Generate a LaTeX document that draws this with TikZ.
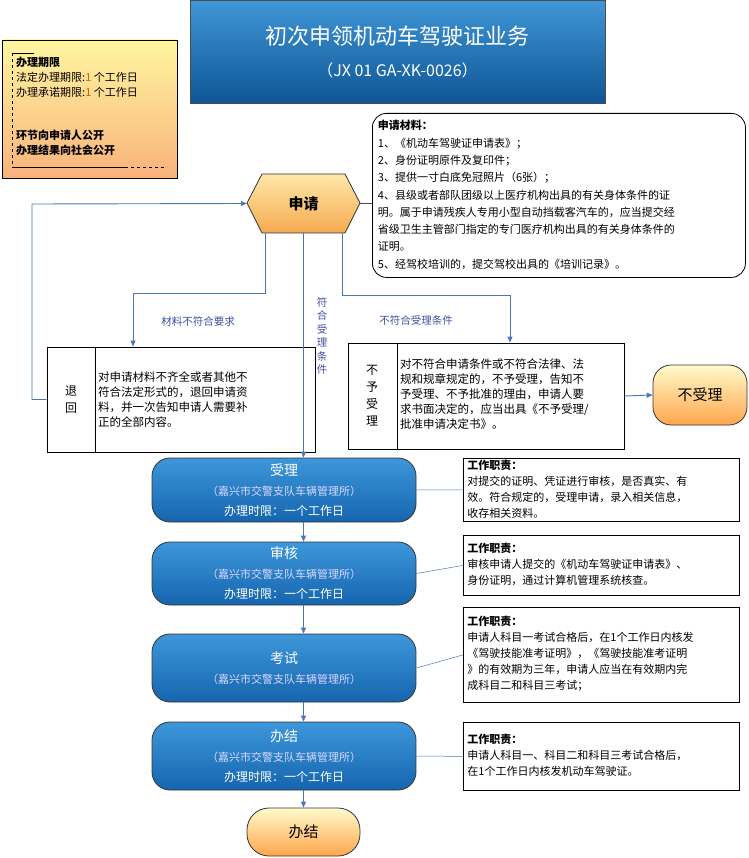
\documentclass[tikz,border=0pt]{standalone}
\usepackage{fontspec}
\setmainfont{Noto Sans CJK SC}
\usetikzlibrary{arrows.meta}
\definecolor{lbl}{HTML}{3F4FA0}
\definecolor{ln}{HTML}{4A76B8}
\definecolor{btop}{HTML}{3E97DA}
\definecolor{bbot}{HTML}{1565AE}
\tikzset{
  conn/.style={draw=ln,line width=0.9pt},
  arr/.style={conn,-{Triangle[length=6pt,width=5pt]}},
  bluebox/.style={draw=black!80,line width=0.8pt,rounded corners=18pt,top color=btop,bottom color=bbot,minimum width=264pt,align=center,text=white,font=\fontsize{12}{20}\selectfont},
  orangebox/.style={draw=black!80,line width=0.8pt,top color=orange!15!yellow!20,bottom color=orange!70,align=center},
  duty/.style={draw=black,line width=0.8pt,anchor=north west,inner sep=0pt,font=\fontsize{11}{16}\selectfont,align=left,text width=276pt},
  lab/.style={text=lbl,font=\fontsize{10.5}{14}\selectfont},
}
\begin{document}
\begin{tikzpicture}[x=1pt,y=-1pt]
\useasboundingbox (0,0) rectangle (748,858);
% title
\node[draw=black!70,top color={rgb,255:red,64;green,150;blue,214},bottom color={rgb,255:red,14;green,86;blue,150},minimum width=415pt,minimum height=103pt,align=center,text=white,font=\fontsize{22}{30}\selectfont] (title) at (397.5,51.5)
 {初次申领机动车驾驶证业务\\[2pt]{\fontsize{16}{22}\selectfont （JX 01 GA-XK-0026）}};
% deadline box
\node[draw=black,line width=0.8pt,top color={rgb,255:red,255;green,246;blue,160},bottom color={rgb,255:red,249;green,178;blue,124},minimum width=175pt,minimum height=138pt] (dl) at (89.5,109) {};
\draw[black,line width=0.7pt] (34,53) -- (12,53);
\draw[black,line width=0.7pt,dashed] (12,53) -- (12,167);
\draw[black,line width=0.7pt] (12,167) -- (125,167);
\draw[black,line width=0.7pt,dashed] (125,167) -- (166,167);
\node[anchor=north west,align=left,inner sep=0pt,font=\fontsize{11}{15}\selectfont] (dlt) at (16,57)
 {\textbf{办理期限}\\法定办理期限:\textcolor{orange!80!black}{1} 个工作日\\办理承诺期限:\textcolor{orange!80!black}{1} 个工作日\\[28pt]\textbf{环节向申请人公开}\\\textbf{办理结果向社会公开}};
% hexagon 申请
\path[draw=black!80,line width=0.8pt,top color={rgb,255:red,255;green,232;blue,170},bottom color={rgb,255:red,245;green,170;blue,80}] (247,203) -- (262,174) -- (345,174) -- (360,203) -- (345,233) -- (262,233) -- cycle;
\node[minimum width=113pt,minimum height=59pt,font=\fontsize{15}{18}\selectfont\bfseries] (sq) at (303.5,203.5) {申请};
% materials
\node[draw=black,line width=0.8pt,rounded corners=14pt,anchor=north west,minimum width=373pt,minimum height=164pt,align=left,inner sep=5pt,font=\fontsize{11}{17.3}\selectfont] (mat) at (372,113)
 {\begin{minipage}[t][150pt]{362pt}\textbf{申请材料：}\\1、《机动车驾驶证申请表》；\\2、身份证明原件及复印件；\\3、提供一寸白底免冠照片（6张）；\\4、县级或者部队团级以上医疗机构出具的有关身体条件的证\\明。属于申请残疾人专用小型自动挡载客汽车的，应当提交经\\省级卫生主管部门指定的专门医疗机构出具的有关身体条件的\\证明。\\5、经驾校培训的，提交驾校出具的《培训记录》。\end{minipage}};
\draw[black!70] (sq.east) -- (mat.west |- sq.east);
% 退回 box
\node[draw=black,line width=0.8pt,minimum width=268pt,minimum height=105pt] (th) at (181,399.5) {};
\draw[black,line width=0.8pt] (95,347) -- (95,452);
\node[font=\fontsize{12}{17}\selectfont,align=center] (thl) at (71,399.5) {退\\回};
\node[anchor=north west,align=left,inner sep=0pt,font=\fontsize{11.5}{15}\selectfont] (tht) at (98,372)
 {对申请材料不齐全或者其他不\\符合法定形式的，退回申请资\\料，并一次告知申请人需要补\\正的全部内容。};
% 不予受理 box
\node[draw=black,line width=0.8pt,minimum width=276pt,minimum height=106pt] (by) at (486,396) {};
\draw[black,line width=0.8pt] (397,343) -- (397,449);
\node[font=\fontsize{12}{17}\selectfont,align=center] (byl) at (372,396) {不\\予\\受\\理};
\node[anchor=north west,align=left,inner sep=0pt,font=\fontsize{11.5}{15}\selectfont] (byt) at (400,359)
 {对不符合申请条件或不符合法律、法\\规和规章规定的，不予受理，告知不\\予受理、不予批准的理由，申请人要\\求书面决定的，应当出具《不予受理/\\批准申请决定书》。};
\node[orangebox,rounded corners=18pt,minimum width=94pt,minimum height=60pt,font=\fontsize{15}{18}\selectfont] (bsl) at (700,395) {不受理};
% blue boxes
\node[bluebox,minimum height=64pt] (b1) at (284,490) {{\fontsize{14}{18}\selectfont 受理}\\{\fontsize{11}{15}\selectfont\color{blue!15} （嘉兴市交警支队车辆管理所）}\\办理时限：一个工作日};
\node[bluebox,minimum height=63pt] (b2) at (284,573.5) {{\fontsize{14}{18}\selectfont 审核}\\{\fontsize{11}{15}\selectfont\color{blue!15} （嘉兴市交警支队车辆管理所）}\\办理时限：一个工作日};
\node[bluebox,minimum height=68pt] (b3) at (284,668) {{\fontsize{14}{18}\selectfont 考试}\\{\fontsize{11}{15}\selectfont\color{blue!15} （嘉兴市交警支队车辆管理所）}};
\node[bluebox,minimum height=68pt] (b4) at (284,756) {{\fontsize{14}{18}\selectfont 办结}\\{\fontsize{11}{15}\selectfont\color{blue!15} （嘉兴市交警支队车辆管理所）}\\办理时限：一个工作日};
\node[orangebox,rounded corners=22pt,minimum width=113pt,minimum height=48pt,font=\fontsize{15}{18}\selectfont] (end) at (303.5,832) {办结};
% duty boxes
\node[duty,minimum height=63pt] (d1) at (463,458) {\hspace{4pt}\begin{minipage}[t]{276pt}\vspace{-2pt}\textbf{工作职责：}\\对提交的证明、凭证进行审核，是否真实、有\\效。符合规定的，受理申请，录入相关信息，\\收存相关资料。\end{minipage}};
\node[duty,minimum height=60pt] (d2) at (463,535) {\hspace{4pt}\begin{minipage}[t]{276pt}\vspace{-2pt}\textbf{工作职责：}\\审核申请人提交的《机动车驾驶证申请表》、\\身份证明，通过计算机管理系统核查。\end{minipage}};
\node[duty,minimum height=95pt] (d3) at (463,607) {\hspace{4pt}\begin{minipage}[t]{276pt}\vspace{-2pt}\textbf{工作职责：}\\申请人科目一考试合格后，在1个工作日内核发\\《驾驶技能准考证明》，《驾驶技能准考证明\\》的有效期为三年，申请人应当在有效期内完\\成科目二和科目三考试；\end{minipage}};
\node[duty,minimum height=68pt] (d4) at (463,722) {\hspace{4pt}\begin{minipage}[t]{276pt}\vspace{-2pt}\textbf{工作职责：}\\申请人科目一、科目二和科目三考试合格后，\\在1个工作日内核发机动车驾驶证。\end{minipage}};
\draw[conn,line width=0.5pt] (b1.east) -- (d1.west);
\draw[conn,line width=0.5pt] (b2.east) -- (d2.west);
\draw[conn,line width=0.5pt] (b3.east) -- (d3.west);
\draw[conn,line width=0.5pt] (b4.east) -- (d4.west);
% connectors
\coordinate (l1) at (265,233);
\draw[arr] (l1) -- (265,293) -- (133,293) -- (th.north -| 133,0);
\node[lab] (lab1) at (198,322) {材料不符合要求};
\draw[arr] (th.west) -- (32,399.5) -- (32,204) -- (sq.west);
\draw[arr] (sq.south) -- (b1.north -| sq.south);
\node[lab,align=center,font=\fontsize{10.5}{13.5}\selectfont] (lab2) at (322,336) {符\\合\\受\\理\\条\\件};
\coordinate (r1) at (342,233);
\draw[arr] (r1) -- (342,295) -- (510,295) -- (by.north -| 510,0);
\node[lab] (lab3) at (416,320) {不符合受理条件};
\draw[arr] (by.east) -- (bsl.west);
\draw[arr] (b1.south -| sq.south) -- (b2.north -| sq.south);
\draw[arr] (b2.south -| sq.south) -- (b3.north -| sq.south);
\draw[arr] (b3.south -| sq.south) -- (b4.north -| sq.south);
\draw[arr] (b4.south -| sq.south) -- (end.north);
\end{tikzpicture}
\end{document}
